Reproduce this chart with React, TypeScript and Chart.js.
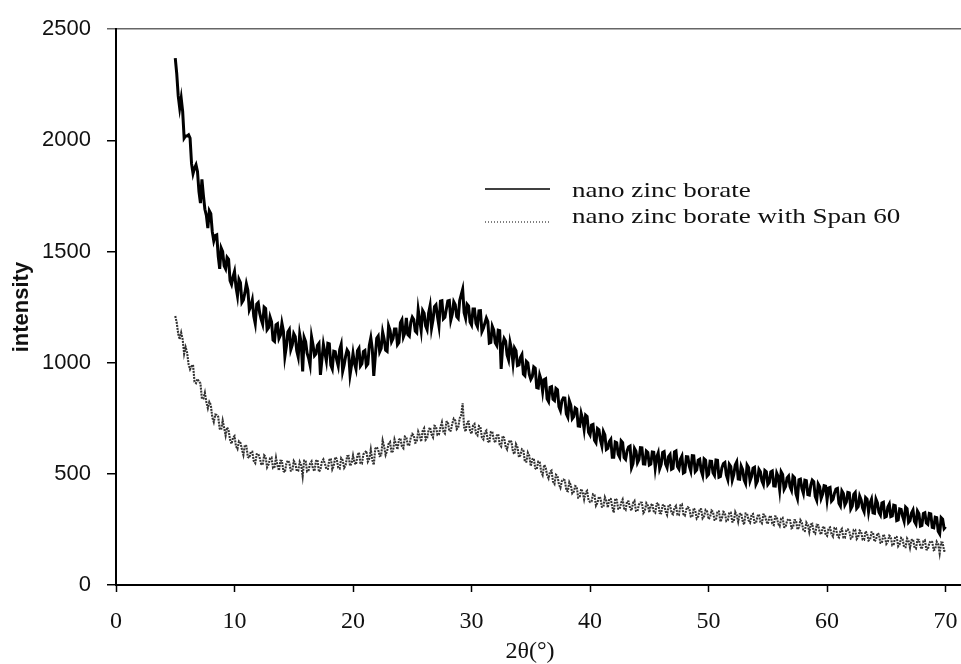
import React, { useEffect, useRef } from "react";
import { Chart, registerables } from "chart.js";

Chart.register(...registerables);

// sampling grid of the diffractograms (2θ in degrees):
// main readings every 0.25° from 5°, in-between readings offset by 0.125°
const ANGLE_START = 5;
const ANGLE_STEP = 0.25;

const X_TICKS = [0, 10, 20, 30, 40, 50, 60, 70];
const Y_TICKS = [0, 500, 1000, 1500, 2000, 2500];

const SERIES_LABELS = ["nano zinc borate", "nano zinc borate with Span 60"];
const X_TITLE = "2θ(°)";
const Y_TITLE = "intensity";

// nano zinc borate: intensity at 5.00, 5.25, ... 70.00°
const ZB_INTENSITY = [
  2370, 2200, 2190, 2010, 2020, 2010, 1850, 1890, 1770, 1825, 1690, 1605, 1670, 1548, 1575, 1422, 1500, 1422, 1465, 1352,
  1410, 1300, 1360, 1282, 1355, 1238, 1282, 1176, 1270, 1195, 1250, 1148, 1205, 1102, 1170, 1109, 1178, 1028, 1138, 1059,
  1130, 1054, 1128, 961, 1095, 1021, 1117, 1032, 1078, 945, 1082, 1008, 1085, 972, 1049, 985, 1082, 990, 1057, 945,
  1042, 972, 1065, 995, 1055, 994, 1112, 941, 1110, 1049, 1138, 1056, 1165, 1094, 1152, 1081, 1180, 1116, 1202, 1119,
  1205, 1142, 1238, 1145, 1222, 1149, 1256, 1193, 1260, 1165, 1279, 1204, 1278, 1191, 1274, 1207, 1280, 1330, 1200, 1255,
  1170, 1241, 1162, 1234, 1155, 1201, 1088, 1164, 1090, 1146, 972, 1109, 1035, 1091, 998, 1054, 990, 1036, 942, 999,
  925, 981, 888, 944, 870, 928, 825, 892, 830, 878, 785, 842, 770, 829, 748, 796, 715, 772, 700, 758,
  675, 722, 640, 698, 625, 675, 615, 655, 575, 640, 575, 640, 565, 621, 528, 614, 550, 618, 545, 602,
  540, 598, 526, 594, 542, 600, 528, 587, 525, 603, 522, 580, 508, 576, 513, 581, 518, 566, 493, 561,
  498, 556, 493, 561, 488, 546, 495, 543, 472, 540, 477, 535, 473, 540, 468, 525, 453, 520, 468, 515,
  452, 509, 446, 503, 430, 497, 443, 490, 426, 483, 389, 476, 412, 469, 405, 472, 398, 454, 390, 447,
  383, 439, 385, 431, 367, 423, 360, 416, 342, 408, 344, 400, 346, 393, 329, 386, 322, 369, 315, 372,
  308, 364, 311, 357, 293, 340, 287, 343, 290, 337, 274, 321, 268, 325, 273, 320, 257, 303, 230, 296, 262,
];

// nano zinc borate: intensity at 5.125, 5.375, ... 69.875°
const ZB_INTENSITY_MID = [
  2300, 2145, 2130, 2020, 2025, 1895, 1875, 1860, 1718, 1753, 1663, 1683, 1589, 1572, 1479, 1516, 1436, 1474, 1369, 1386,
  1340, 1375, 1271, 1314, 1327, 1255, 1209, 1263, 1223, 1173, 1244, 1157, 1184, 1096, 1175, 1124, 1143, 1073, 1149, 1080,
  1117, 1026, 1090, 1113, 1043, 989, 1080, 1040, 1087, 1014, 1045, 1087, 989, 1051, 1012, 1059, 961, 1029, 1046, 989,
  997, 1054, 985, 1050, 985, 1078, 1062, 1026, 1120, 1064, 1107, 1051, 1145, 1108, 1152, 1091, 1193, 1134, 1126, 1182,
  1194, 1135, 1192, 1234, 1166, 1223, 1155, 1252, 1208, 1277, 1197, 1241, 1280, 1218, 1261, 1199, 1305, 1225, 1263, 1183,
  1241, 1177, 1233, 1140, 1178, 1185, 1091, 1147, 1078, 1144, 1076, 1097, 1013, 1060, 1066, 987, 1023, 949, 1006, 947,
  938, 975, 886, 922, 924, 837, 889, 836, 884, 802, 829, 841, 755, 809, 757, 791, 714, 746, 764, 687,
  719, 651, 704, 652, 690, 610, 645, 575, 643, 588, 648, 573, 603, 625, 546, 602, 564, 617, 544, 596,
  544, 597, 575, 523, 596, 544, 578, 521, 599, 533, 566, 504, 577, 535, 582, 510, 562, 515, 567, 490,
  557, 505, 562, 485, 527, 551, 474, 533, 496, 554, 476, 519, 457, 529, 487, 529, 467, 509, 452, 509,
  461, 513, 445, 487, 509, 430, 482, 443, 490, 411, 473, 434, 471, 407, 449, 465, 381, 442, 409, 445,
  436, 377, 413, 434, 355, 412, 373, 414, 355, 416, 352, 383, 330, 386, 368, 324, 386, 327, 369, 305,
  351, 308, 359, 290, 342, 309, 350, 282, 324, 286, 333, 265, 322, 279, 322, 259, 305, 242, 303, 254,
];

// nano zinc borate with Span 60: intensity at 5.00, 5.25, ... 70.00°
const ZB_SPAN60_INTENSITY = [
  1210, 1130, 1135, 1040, 1045, 970, 990, 908, 915, 838, 865, 795, 810, 733, 765, 703, 740, 672, 695, 635,
  670, 612, 640, 585, 625, 572, 600, 548, 590, 544, 583, 529, 570, 526, 573, 515, 558, 507, 560, 514,
  558, 513, 554, 489, 560, 516, 556, 512, 563, 519, 565, 522, 563, 520, 575, 528, 570, 527, 579, 536,
  583, 542, 596, 546, 595, 555, 610, 540, 620, 580, 650, 585, 635, 595, 655, 610, 660, 615, 665, 630,
  680, 640, 690, 645, 705, 660, 709, 664, 713, 677, 732, 681, 735, 694, 748, 701, 750, 817, 690, 735,
  680, 724, 673, 711, 655, 695, 640, 690, 640, 679, 623, 661, 610, 651, 598, 634, 575, 610, 555, 595,
  535, 570, 520, 555, 495, 530, 480, 515, 455, 491, 437, 474, 425, 463, 412, 445, 393, 432, 385, 424,
  373, 408, 357, 397, 352, 395, 348, 387, 325, 383, 342, 385, 338, 376, 335, 378, 332, 371, 324, 368,
  327, 366, 325, 369, 323, 362, 315, 359, 318, 356, 315, 363, 312, 350, 308, 346, 299, 342, 300, 338,
  296, 335, 293, 332, 285, 329, 288, 326, 285, 329, 284, 323, 272, 321, 281, 320, 279, 318, 277, 316,
  275, 312, 270, 307, 265, 302, 260, 297, 255, 292, 250, 292, 244, 281, 238, 275, 232, 269, 227, 264,
  221, 259, 218, 256, 214, 253, 212, 250, 209, 248, 207, 245, 204, 242, 200, 237, 195, 233, 190, 228,
  185, 222, 179, 217, 174, 212, 170, 209, 167, 206, 164, 203, 162, 201, 159, 198, 157, 195, 142, 190, 153,
];

// nano zinc borate with Span 60: intensity at 5.125, 5.375, ... 69.875°
const ZB_SPAN60_INTENSITY_MID = [
  1180, 1105, 1105, 1070, 993, 983, 914, 927, 907, 839, 823, 823, 754, 767, 757, 699, 706, 709, 653, 663,
  624, 646, 610, 630, 576, 599, 557, 589, 572, 541, 576, 542, 573, 530, 537, 559, 513, 546, 550, 514,
  548, 514, 539, 560, 511, 547, 522, 558, 509, 555, 546, 522, 569, 536, 567, 524, 561, 538, 580, 547,
  550, 584, 548, 588, 603, 568, 563, 613, 608, 583, 623, 603, 643, 603, 633, 653, 623, 668, 628, 663,
  673, 643, 673, 693, 653, 697, 677, 716, 675, 710, 689, 733, 692, 726, 740, 708, 764, 709, 733, 693,
  717, 681, 715, 663, 688, 648, 688, 653, 672, 631, 670, 623, 641, 642, 589, 620, 585, 605, 555, 580,
  565, 525, 555, 510, 540, 495, 510, 465, 496, 452, 468, 470, 422, 450, 419, 442, 395, 419, 417, 381,
  376, 405, 370, 390, 351, 379, 388, 351, 389, 343, 371, 344, 377, 346, 369, 333, 362, 370, 334, 358,
  357, 331, 365, 324, 358, 331, 360, 324, 347, 316, 359, 318, 341, 344, 307, 335, 308, 341, 309, 332,
  306, 329, 293, 331, 300, 324, 292, 326, 285, 314, 319, 288, 322, 291, 316, 280, 309, 283, 317, 286,
  304, 276, 309, 276, 299, 261, 289, 291, 259, 291, 259, 281, 243, 270, 272, 239, 271, 238, 256, 228,
  255, 229, 257, 220, 244, 213, 246, 240, 214, 248, 216, 240, 203, 231, 204, 236, 204, 227, 189, 217,
  194, 216, 183, 216, 183, 206, 170, 198, 202, 170, 204, 173, 197, 160, 189, 193, 161, 184, 191, 154,
];

const SERIF = '"Liberation Serif", "Times New Roman", serif';
const SANS = '"Liberation Sans", Arial, sans-serif';

function toPoints(main: number[], mid: number[]) {
  const pts: { x: number; y: number }[] = [];
  main.forEach((v, i) => {
    pts.push({ x: ANGLE_START + i * ANGLE_STEP, y: v });
    if (i < mid.length) pts.push({ x: ANGLE_START + (i + 0.5) * ANGLE_STEP, y: mid[i] });
  });
  return pts;
}

function drawStretched(
  ctx: CanvasRenderingContext2D,
  text: string,
  x: number,
  y: number,
  align: "left" | "center",
  font: string,
  stretch: number
) {
  ctx.save();
  ctx.font = font;
  ctx.textBaseline = "alphabetic";
  ctx.textAlign = "left";
  const w = ctx.measureText(text).width * stretch;
  const left = align === "center" ? x - w / 2 : x;
  ctx.translate(left, y);
  ctx.scale(stretch, 1);
  ctx.fillStyle = "#111";
  ctx.fillText(text, 0, 0);
  ctx.restore();
}

const overlayPlugin = {
  id: "overlay",
  afterDraw(chart: any) {
    const ctx: CanvasRenderingContext2D = chart.ctx;
    const xs = chart.scales.x;
    // x tick labels (values and positions from the library's scale)
    xs.ticks.forEach((t: any) => {
      const px = xs.getPixelForValue(t.value);
      drawStretched(ctx, String(t.value), px, 628, "center", `24px ${SERIF}`, 1.0);
    });
    // x axis title
    drawStretched(ctx, X_TITLE, 530, 658, "center", `24px ${SERIF}`, 1.0);

    // legend
    ctx.save();
    ctx.strokeStyle = "#000";
    ctx.lineWidth = 1.6;
    ctx.beginPath();
    ctx.moveTo(485, 189);
    ctx.lineTo(550, 189);
    ctx.stroke();
    ctx.strokeStyle = "#555";
    ctx.lineWidth = 1.5;
    ctx.setLineDash([1, 2]);
    ctx.beginPath();
    ctx.moveTo(485, 222);
    ctx.lineTo(551, 222);
    ctx.stroke();
    ctx.restore();
    drawStretched(ctx, SERIES_LABELS[0], 572, 197, "left", `22px ${SERIF}`, 1.23);
    drawStretched(ctx, SERIES_LABELS[1], 572, 223, "left", `22px ${SERIF}`, 1.23);
  },
};

export default function App() {
  const canvasRef = useRef<HTMLCanvasElement | null>(null);

  useEffect(() => {
    if (!canvasRef.current) return;
    const chart = new Chart(canvasRef.current, {
      type: "line",
      data: {
        datasets: [
          {
            label: SERIES_LABELS[0],
            data: toPoints(ZB_INTENSITY, ZB_INTENSITY_MID),
            borderColor: "#000",
            borderWidth: 3,
            pointRadius: 0,
            tension: 0,
            fill: false,
          },
          {
            label: SERIES_LABELS[1],
            data: toPoints(ZB_SPAN60_INTENSITY, ZB_SPAN60_INTENSITY_MID),
            borderColor: "#333",
            borderWidth: 2.1,
            borderDash: [2, 1],
            pointRadius: 0,
            tension: 0,
            fill: false,
          },
        ],
      },
      options: {
        animation: false,
        responsive: false,
        maintainAspectRatio: false,
        layout: { padding: { top: 25, right: 0, left: 0, bottom: 0 } },
        plugins: {
          legend: { display: false },
          tooltip: { enabled: false },
        },
        scales: {
          x: {
            type: "linear",
            min: 0,
            max: 71.3,
            afterBuildTicks: (s: any) => {
              s.ticks = X_TICKS.map((v) => ({ value: v }));
            },
            afterFit: (s: any) => {
              s.height = 79;
            },
            border: { color: "#000", width: 2 },
            grid: {
              drawOnChartArea: false,
              drawTicks: true,
              tickLength: 7,
              tickColor: "#000",
              tickWidth: 1.5,
            },
            ticks: { display: false },
          },
          y: {
            type: "linear",
            min: 0,
            max: 2500,
            afterBuildTicks: (s: any) => {
              s.ticks = Y_TICKS.map((v) => ({ value: v }));
            },
            afterFit: (s: any) => {
              s.width = 116;
            },
            border: { color: "#000", width: 2 },
            grid: {
              color: (c: any) => (c.tick && c.tick.value === 2500 ? "#666" : "rgba(0,0,0,0)"),
              lineWidth: 1.5,
              drawTicks: true,
              tickLength: 9,
              tickColor: (c: any) => (c.tick && c.tick.value === 2500 ? "#666" : "#000"),
              tickWidth: 1.5,
            },
            ticks: {
              font: { family: SANS, size: 22 },
              color: "#111",
              padding: 16,
              callback: (v: any) => String(v),
            },
            title: {
              display: true,
              text: Y_TITLE,
              font: { family: SANS, size: 22, weight: "bold" },
              color: "#111",
              padding: { top: 9, bottom: 0 },
            },
          },
        },
      },
      plugins: [overlayPlugin],
    } as any);
    return () => chart.destroy();
  }, []);

  return (
    <div style={{ position: "fixed", left: 0, top: 0, width: 961, height: 664, background: "#fff" }}>
      <canvas ref={canvasRef} width={961} height={664} style={{ display: "block" }} />
    </div>
  );
}
